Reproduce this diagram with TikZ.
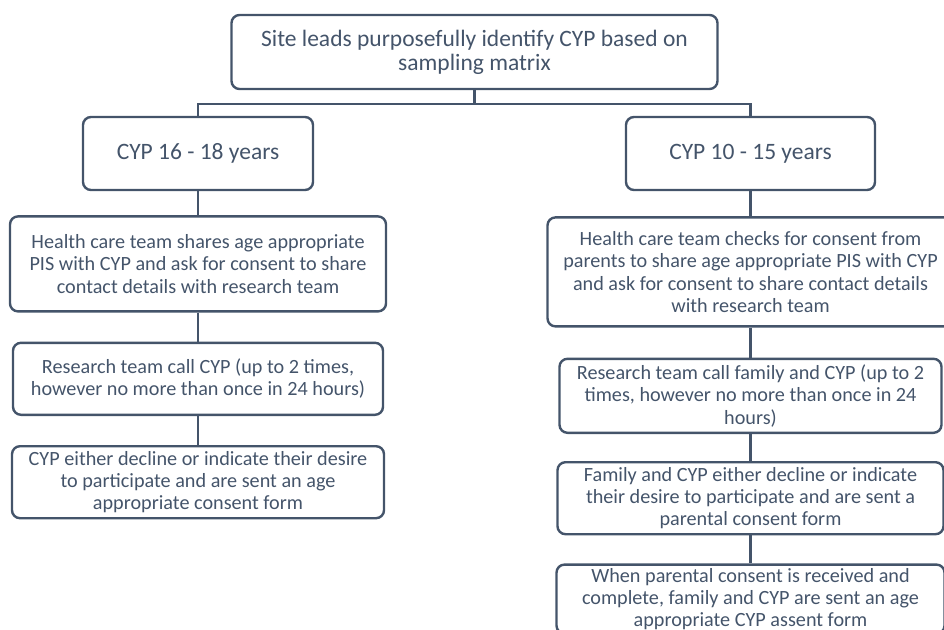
\documentclass[tikz,border=0pt]{standalone}
\usepackage{fontspec}
\setmainfont{Carlito}
\usepackage{tikz}
\usetikzlibrary{positioning}
\definecolor{slate}{HTML}{44546A}

\begin{document}
\begin{tikzpicture}[x=1pt, y=-1pt, node distance=30pt, line width=2.4pt, draw=slate]

        % styles for the boxes
        \tikzset{
          flowbox/.style={draw=slate, rectangle, rounded corners=8pt, align=center, text=slate,
                          inner sep=1pt, font=\fontsize{20.2}{22.4}\selectfont},
          bigbox/.style={flowbox, font=\fontsize{23.5}{24}\selectfont},
          link/.style={draw=slate, line width=2.4pt}
        }

        \useasboundingbox (0,0) rectangle (944,629);
        \clip (0,0) rectangle (944,629);

        % top and age groups
        \node[bigbox, minimum width=486pt, minimum height=74pt] (top) at (474.5,52) {Site leads purposefully identify CYP based on\\sampling matrix};
        \node[bigbox, minimum width=230pt, minimum height=73pt] (older) at (198,153.5) {CYP 16 - 18 years};
        \node[bigbox, minimum width=249pt, minimum height=73pt] (younger) at (750.5,153.5) {CYP 10 - 15 years};

        % left column, CYP 16 - 18
        \node[flowbox, minimum width=376pt, minimum height=95pt, below=24pt of older] (oldshare) {Health care team shares age appropriate\\PIS with CYP and ask for consent to share\\contact details with research team};
        \node[flowbox, minimum width=370pt, minimum height=72pt, below=29pt of oldshare] (oldcall) {Research team call CYP (up to 2 times,\\however no more than once in 24 hours)};
        \node[flowbox, minimum width=372pt, minimum height=72pt, below=29pt of oldcall] (oldform) {CYP either decline or indicate their desire\\to participate and are sent an age\\appropriate consent form};

        % right column, CYP 10 - 15
        \node[flowbox, minimum width=406pt, minimum height=109pt, below=25pt of younger] (youngshare) {Health care team checks for consent from\\parents to share age appropriate PIS with CYP\\and ask for consent to share contact details\\with research team};
        \node[flowbox, minimum width=382pt, minimum height=74pt, below=30pt of youngshare] (youngcall) {Research team call family and CYP (up to 2\\times, however no more than once in 24\\hours)};
        \node[flowbox, minimum width=386pt, minimum height=72pt, below=27pt of youngcall] (youngform) {Family and CYP either decline or indicate\\their desire to participate and are sent a\\parental consent form};
        \node[flowbox, minimum width=388pt, minimum height=69pt, below=28pt of youngform] (assent) {When parental consent is received and\\complete, family and CYP are sent an age\\appropriate CYP assent form};

        % connectors
        \draw[link] (top.south) -- ++(0,14) -| (older.north);
        \draw[link] (top.south) -- ++(0,14) -| (younger.north);
        \draw[link] (older) -- (oldshare);
        \draw[link] (oldshare) -- (oldcall);
        \draw[link] (oldcall) -- (oldform);
        \draw[link] (younger) -- (youngshare);
        \draw[link] (youngshare) -- (youngcall);
        \draw[link] (youngcall) -- (youngform);
        \draw[link] (youngform) -- (assent);
    \end{tikzpicture}
\end{document}
